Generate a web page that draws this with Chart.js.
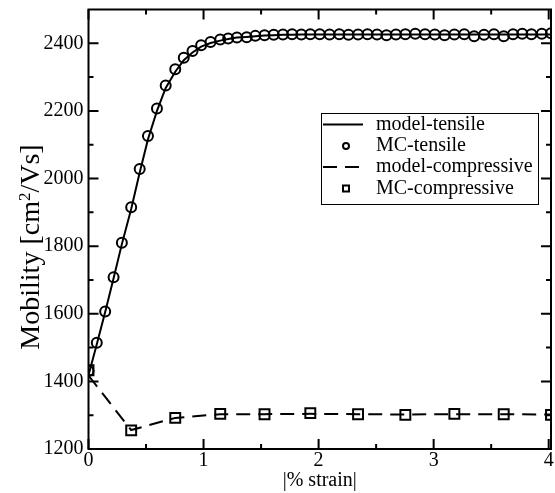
<!DOCTYPE html>
<html>
<head>
<meta charset="utf-8">
<script src="https://cdn.jsdelivr.net/npm/chart.js@4.4.0/dist/chart.umd.min.js"></script>
<style>
  html, body { margin: 0; padding: 0; background: #fff; }
  #wrap { width: 555px; height: 493px; }
</style>
</head>
<body>
<div id="wrap"><canvas id="mobilityChart" width="555" height="493"></canvas></div>
<script>
// |% strain| of the Monte Carlo runs, tensile side
const strainTensile = [
  0, 0.072, 0.145, 0.218, 0.29, 0.371, 0.445, 0.517, 0.595, 0.671,
  0.754, 0.828, 0.904, 0.979, 1.061, 1.145, 1.214, 1.29, 1.375, 1.45,
  1.53, 1.61, 1.69, 1.77, 1.85, 1.928, 2.01, 2.095, 2.18, 2.26,
  2.343, 2.425, 2.508, 2.59, 2.672, 2.754, 2.84, 2.925, 3.01, 3.095,
  3.18, 3.266, 3.352, 3.438, 3.524, 3.609, 3.69, 3.77, 3.85, 3.94, 4.02
];
// mobility, cm^2/Vs
const mcTensile = [
  1431, 1514, 1607, 1708, 1810, 1915, 2028, 2126, 2207, 2275,
  2323, 2357, 2377, 2394, 2404, 2411, 2414, 2417, 2418, 2422,
  2424, 2425, 2426, 2427, 2426, 2427, 2427, 2426, 2427, 2425,
  2426, 2427, 2426, 2424, 2426, 2427, 2428, 2427, 2426, 2424,
  2426, 2427, 2421, 2425, 2427, 2421, 2427, 2428, 2427, 2428, 2430
];
const modelTensile = [
  1418, 1510, 1605, 1705, 1806, 1910, 2018, 2116, 2200, 2268,
  2316, 2350, 2373, 2390, 2401, 2408, 2413, 2417, 2419, 2421,
  2423, 2424, 2425, 2425, 2426, 2426, 2426, 2426, 2426, 2426,
  2426, 2426, 2426, 2426, 2426, 2426, 2426, 2426, 2426, 2426,
  2426, 2426, 2426, 2426, 2426, 2426, 2426, 2426, 2426, 2426, 2426
];

// compressive side
const strainCompressive = [0, 0.371, 0.754, 1.145, 1.53, 1.928, 2.343, 2.754, 3.18, 3.609, 4.02];
const mcCompressive = [1433, 1255, 1292, 1304, 1303, 1306, 1303, 1301, 1304, 1303, 1301];
const modelCompressive = [1417, 1256, 1292, 1303, 1303, 1304, 1303, 1302, 1303, 1303, 1302];

// axes
const xMajor = [0, 1, 2, 3, 4];
const xMinor = [0.5, 1.5, 2.5, 3.5];
const yMajor = [1200, 1400, 1600, 1800, 2000, 2200, 2400];
const yMinor = [1300, 1500, 1700, 1900, 2100, 2300];

const FONT = "'Liberation Serif', 'Times New Roman', serif";

function pts(xs, ys) {
  return xs.map((x, i) => ({ x: x, y: ys[i] }));
}

// box frame with inward ticks on all four sides, plus the x tick labels
const frameTicks = {
  id: 'frameTicks',
  afterDatasetsDraw(chart) {
    const { ctx, chartArea: a, scales: { x, y } } = chart;
    ctx.save();
    ctx.strokeStyle = '#000';
    ctx.lineWidth = 2;
    ctx.strokeRect(a.left, a.top, a.right - a.left, a.bottom - a.top);
    ctx.beginPath();
    const tickX = (v, len) => {
      const px = x.getPixelForValue(v);
      ctx.moveTo(px, a.bottom); ctx.lineTo(px, a.bottom - len);
      ctx.moveTo(px, a.top); ctx.lineTo(px, a.top + len);
    };
    const tickY = (v, len) => {
      const py = y.getPixelForValue(v);
      ctx.moveTo(a.left, py); ctx.lineTo(a.left + len, py);
      ctx.moveTo(a.right, py); ctx.lineTo(a.right - len, py);
    };
    xMajor.forEach(v => tickX(v, 10));
    xMinor.forEach(v => tickX(v, 5));
    yMajor.forEach(v => tickY(v, 10));
    yMinor.forEach(v => tickY(v, 5));
    ctx.stroke();

    ctx.fillStyle = '#000';
    ctx.font = '20px ' + FONT;
    ctx.textAlign = 'center';
    ctx.textBaseline = 'middle';
    xMajor.forEach(v => ctx.fillText(String(v), x.getPixelForValue(v), a.bottom + 12));
    ctx.restore();
  }
};

// y title with a real superscript
const yTitle = {
  id: 'yTitle',
  afterDraw(chart) {
    const { ctx } = chart;
    const parts = [
      { t: 'Mobility [cm', size: 28, rise: 0 },
      { t: '2', size: 17, rise: 9 },
      { t: '/Vs]', size: 28, rise: 0 }
    ];
    ctx.save();
    ctx.translate(0, 247);
    ctx.rotate(-Math.PI / 2);
    ctx.fillStyle = '#000';
    ctx.textBaseline = 'alphabetic';
    let total = 0;
    parts.forEach(p => { ctx.font = p.size + 'px ' + FONT; total += ctx.measureText(p.t).width; });
    let cx = -total / 2;
    parts.forEach(p => {
      ctx.font = p.size + 'px ' + FONT;
      ctx.fillText(p.t, cx, 39 - p.rise);
      cx += ctx.measureText(p.t).width;
    });
    ctx.restore();
  }
};

// boxed legend inside the plot
const boxLegend = {
  id: 'boxLegend',
  afterDraw(chart) {
    const { ctx } = chart;
    const left = 321, top = 113, w = 217, h = 91;
    const rowY = [124.5, 146, 167, 188.5];
    ctx.save();
    ctx.fillStyle = '#fff';
    ctx.fillRect(left, top, w, h);
    ctx.strokeStyle = '#000';
    ctx.lineWidth = 1;
    ctx.strokeRect(left + 0.5, top + 0.5, w, h);
    chart.data.datasets.forEach((ds, i) => {
      const yy = rowY[i];
      ctx.strokeStyle = '#000';
      ctx.lineWidth = 2;
      if (ds.showLine) {
        ctx.setLineDash(ds.borderDash || []);
        ctx.beginPath();
        ctx.moveTo(323, yy); ctx.lineTo(363, yy);
        ctx.stroke();
        ctx.setLineDash([]);
      } else if (ds.pointStyle === 'circle') {
        ctx.beginPath();
        ctx.arc(346, yy, 3, 0, Math.PI * 2);
        ctx.stroke();
      } else {
        ctx.strokeRect(343, yy - 3, 6, 6);
      }
      ctx.fillStyle = '#000';
      ctx.font = '20px ' + FONT;
      ctx.textBaseline = 'middle';
      ctx.fillText(ds.label, 376, yy);
    });
    ctx.restore();
  }
};

const chart = new Chart(document.getElementById('mobilityChart'), {
  type: 'scatter',
  data: {
    datasets: [
      {
        label: 'model-tensile',
        data: pts(strainTensile, modelTensile),
        showLine: true,
        borderColor: '#000',
        borderWidth: 2,
        pointRadius: 0
      },
      {
        label: 'MC-tensile',
        data: pts(strainTensile, mcTensile),
        showLine: false,
        pointStyle: 'circle',
        pointRadius: 5,
        pointBorderWidth: 2,
        borderColor: '#000',
        backgroundColor: 'rgba(0,0,0,0)'
      },
      {
        label: 'model-compressive',
        data: pts(strainCompressive, modelCompressive),
        showLine: true,
        borderColor: '#000',
        borderWidth: 2,
        borderDash: [14, 8],
        pointRadius: 0
      },
      {
        label: 'MC-compressive',
        data: pts(strainCompressive, mcCompressive),
        showLine: false,
        pointStyle: 'rect',
        pointRadius: 7,
        pointBorderWidth: 2,
        borderColor: '#000',
        backgroundColor: 'rgba(0,0,0,0)'
      }
    ]
  },
  options: {
    responsive: false,
    animation: false,
    layout: { autoPadding: false, padding: { top: 9.5, right: 4, bottom: 0, left: 0 } },
    plugins: {
      legend: { display: false },
      tooltip: { enabled: false }
    },
    scales: {
      x: {
        type: 'linear',
        min: 0,
        max: 4.02,
        afterBuildTicks: s => { s.ticks = xMajor.map(v => ({ value: v })); },
        afterFit: s => { s.height = 44; },
        grid: { display: false, drawTicks: false },
        border: { display: false },
        ticks: { display: false },
        title: {
          display: true,
          text: '|% strain|',
          color: '#000',
          font: { family: FONT, size: 20 },
          padding: { top: 0, bottom: 0 }
        }
      },
      y: {
        type: 'linear',
        min: 1200,
        max: 2500,
        afterBuildTicks: s => { s.ticks = yMajor.map(v => ({ value: v })); },
        afterFit: s => { s.width = 88.5; s.paddingTop = 0; s.paddingBottom = 0; },
        grid: { display: false, drawTicks: false },
        border: { display: false },
        ticks: {
          color: '#000',
          font: { family: FONT, size: 20 },
          padding: 5,
          callback: v => String(v)
        }
      }
    }
  },
  plugins: [frameTicks, yTitle, boxLegend]
});
</script>
</body>
</html>
